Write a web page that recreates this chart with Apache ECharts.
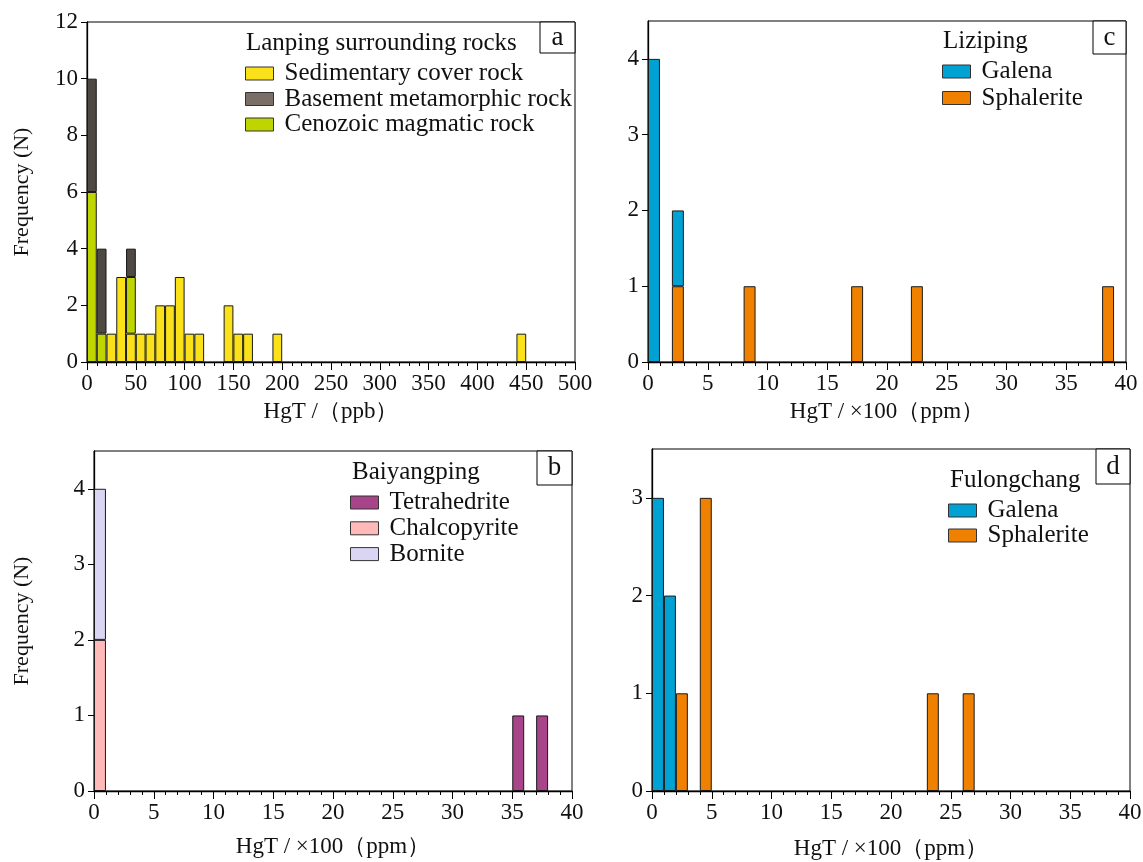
<!DOCTYPE html>
<html>
<head>
<meta charset="utf-8">
<script src="https://cdn.jsdelivr.net/npm/echarts@6/dist/echarts.min.js"></script>
<style>
  html, body { margin: 0; padding: 0; background: #fff; }
  #chart { width: 1143px; height: 862px; }
</style>
</head>
<body>
<div id="chart"></div>
<script>
// ---------------- DATA ----------------
// Panel a: Lanping surrounding rocks, HgT (ppb), bins of 10 ppb from 0 to 500
const aBins = ['0','10','20','30','40','50','60','70','80','90','100','110','120','130','140','150','160','170','180','190',
  '200','210','220','230','240','250','260','270','280','290','300','310','320','330','340','350','360','370','380','390',
  '400','410','420','430','440','450','460','470','480','490'];
const aSedimentary = [0,0,1,3,1,1,1,2,2,3, 1,1,0,0,2,1,1,0,0,1, 0,0,0,0,0,0,0,0,0,0, 0,0,0,0,0,0,0,0,0,0, 0,0,0,0,1,0,0,0,0,0];
const aCenozoic    = [6,1,0,0,2,0,0,0,0,0, 0,0,0,0,0,0,0,0,0,0, 0,0,0,0,0,0,0,0,0,0, 0,0,0,0,0,0,0,0,0,0, 0,0,0,0,0,0,0,0,0,0];
const aBasement    = [4,3,0,0,1,0,0,0,0,0, 0,0,0,0,0,0,0,0,0,0, 0,0,0,0,0,0,0,0,0,0, 0,0,0,0,0,0,0,0,0,0, 0,0,0,0,0,0,0,0,0,0];

// Panels b, c, d: HgT (x100 ppm), bins of 1 from 0 to 40
const ppmBins = ['0','1','2','3','4','5','6','7','8','9','10','11','12','13','14','15','16','17','18','19',
  '20','21','22','23','24','25','26','27','28','29','30','31','32','33','34','35','36','37','38','39'];
// c: Liziping
const cGalena     = [4,0,1,0,0,0,0,0,0,0, 0,0,0,0,0,0,0,0,0,0, 0,0,0,0,0,0,0,0,0,0, 0,0,0,0,0,0,0,0,0,0];
const cSphalerite = [0,0,1,0,0,0,0,0,1,0, 0,0,0,0,0,0,0,1,0,0, 0,0,1,0,0,0,0,0,0,0, 0,0,0,0,0,0,0,0,1,0];
// b: Baiyangping
const bTetrahedrite = [0,0,0,0,0,0,0,0,0,0, 0,0,0,0,0,0,0,0,0,0, 0,0,0,0,0,0,0,0,0,0, 0,0,0,0,0,1,0,1,0,0];
const bChalcopyrite = [2,0,0,0,0,0,0,0,0,0, 0,0,0,0,0,0,0,0,0,0, 0,0,0,0,0,0,0,0,0,0, 0,0,0,0,0,0,0,0,0,0];
const bBornite      = [2,0,0,0,0,0,0,0,0,0, 0,0,0,0,0,0,0,0,0,0, 0,0,0,0,0,0,0,0,0,0, 0,0,0,0,0,0,0,0,0,0];
// d: Fulongchang
const dGalena     = [3,2,0,0,0,0,0,0,0,0, 0,0,0,0,0,0,0,0,0,0, 0,0,0,0,0,0,0,0,0,0, 0,0,0,0,0,0,0,0,0,0];
const dSphalerite = [0,0,1,0,3,0,0,0,0,0, 0,0,0,0,0,0,0,0,0,0, 0,0,0,1,0,0,1,0,0,0, 0,0,0,0,0,0,0,0,0,0];

const yTicksA = [0,2,4,6,8,10,12];
const yTicksC = [0,1,2,3,4];
const yTicksB = [0,1,2,3,4];
const yTicksD = [0,1,2,3];

// ---------------- STYLE ----------------
const FONT = "'Liberation Serif','Times New Roman',serif";
const INK = '#111';
const C = {
  sed: '#fbe119', base: '#4e4a43', baseLegend: '#7a6e66', ceno: '#bfd500',
  galena: '#00a2d4', sphal: '#f08000',
  tetra: '#a8458a', chalco: '#ffb9b9', bornite: '#d9d5f3'
};

const grids = [
  { left: 87,  top: 22,  width: 488, height: 340 }, // a
  { left: 648, top: 21,  width: 478, height: 341 }, // c
  { left: 94,  top: 451, width: 478, height: 340 }, // b
  { left: 652, top: 449, width: 478, height: 342 }  // d
].map(g => Object.assign({ show: true, borderColor: '#000', borderWidth: 1, backgroundColor: 'transparent', containLabel: false, outerBoundsMode: 'none' }, g));

function catAxis(gi, data) {
  return { type: 'category', gridIndex: gi, data: data, show: false, boundaryGap: true };
}
function valXAxis(gi, max, interval, name, nameGap) {
  return {
    type: 'value', gridIndex: gi, position: 'bottom', min: 0, max: max, interval: interval,
    axisLine: { show: true, onZero: false, lineStyle: { color: '#000', width: 1.3 } },
    axisTick: { show: true, inside: false, length: 8, lineStyle: { color: '#000', width: 1 } },
    minorTick: { show: true, splitNumber: 5, length: 4, lineStyle: { color: '#000', width: 1 } },
    splitLine: { show: false }, minorSplitLine: { show: false },
    axisLabel: { color: INK, fontSize: 23, fontFamily: FONT, margin: 10 },
    name: name, nameLocation: 'middle', nameGap: nameGap,
    nameTextStyle: { color: INK, fontSize: 23, fontFamily: FONT }
  };
}
function valYAxis(gi, max, ticks, name, nameGap) {
  return {
    type: 'value', gridIndex: gi, min: 0, max: max,
    axisLine: { show: true, lineStyle: { color: '#000', width: 1.3 } },
    axisTick: { show: true, inside: false, length: 6, customValues: ticks, lineStyle: { color: '#000', width: 1 } },
    axisLabel: { color: INK, fontSize: 23, fontFamily: FONT, margin: 9, customValues: ticks },
    splitLine: { show: false },
    name: name || '', nameLocation: 'middle', nameGap: nameGap || 0, nameRotate: 90,
    nameTextStyle: { color: INK, fontSize: 22, fontFamily: FONT }
  };
}
function bars(name, data, xi, yi, color, stack) {
  return {
    type: 'bar', name: name, xAxisIndex: xi, yAxisIndex: yi, stack: stack,
    data: data.map(v => v === 0 ? '-' : v),
    barCategoryGap: '0%', barGap: '0%',
    itemStyle: { color: color, borderColor: '#1a1a1a', borderWidth: 1 },
    emphasis: { disabled: true }, silent: true
  };
}
function legendAt(left, top, gap, data) {
  return {
    data: data, orient: 'vertical', left: left, top: top, padding: 0, itemGap: gap,
    icon: 'rect', itemWidth: 28, itemHeight: 13, selectedMode: false,
    itemStyle: { borderColor: '#333', borderWidth: 1 },
    textStyle: { color: INK, fontSize: 25, fontFamily: FONT, lineHeight: 22.5, padding: [0, 0, 0, 6] }
  };
}
function titleAt(text, left, top) {
  return { text: text, left: left, top: top, padding: 0,
    textStyle: { color: INK, fontSize: 25, fontWeight: 'normal', fontFamily: FONT, lineHeight: 26 } };
}
function letterBox(ch, x, y, w, h) {
  return [
    { type: 'rect', z: 20, shape: { x: x, y: y, width: w, height: h }, style: { fill: '#fff', stroke: '#000', lineWidth: 1 } },
    { type: 'text', z: 21, x: x + w / 2, y: y + h / 2,
      style: { text: ch, fill: INK, fontSize: 27, fontFamily: FONT, align: 'center', verticalAlign: 'middle' } }
  ];
}

const option = {
  animation: false,
  backgroundColor: '#fff',
  grid: grids,
  xAxis: [
    catAxis(0, aBins), valXAxis(0, 500, 50, 'HgT /（ppb）', 38),
    catAxis(1, ppmBins), valXAxis(1, 40, 5, 'HgT / ×100（ppm）', 38),
    catAxis(2, ppmBins), valXAxis(2, 40, 5, 'HgT / ×100（ppm）', 44),
    catAxis(3, ppmBins), valXAxis(3, 40, 5, 'HgT / ×100（ppm）', 46)
  ],
  yAxis: [
    valYAxis(0, 12, yTicksA, 'Frequency (N)', 54),
    valYAxis(1, 4.5, yTicksC),
    valYAxis(2, 4.5, yTicksB, 'Frequency (N)', 61),
    valYAxis(3, 3.5, yTicksD)
  ],
  title: [
    titleAt('Lanping surrounding rocks', 246, 30),
    titleAt('Liziping', 943, 28),
    titleAt('Baiyangping', 352, 459),
    titleAt('Fulongchang', 950, 467)
  ],
  legend: [
    legendAt(245, 61, 0.5, [
      { name: 'Sedimentary cover rock' },
      { name: 'Basement metamorphic rock', itemStyle: { color: C.baseLegend } },
      { name: 'Cenozoic magmatic rock' }
    ]),
    legendAt(942, 59, 1.5, ['Galena', 'Sphalerite']),
    legendAt(350, 490, 0.8, ['Tetrahedrite', 'Chalcopyrite', 'Bornite']),
    legendAt(948, 498, 0, ['Galena ', 'Sphalerite '])
  ],
  series: [
    bars('Sedimentary cover rock', aSedimentary, 0, 0, C.sed, 'a'),
    bars('Cenozoic magmatic rock', aCenozoic, 0, 0, C.ceno, 'a'),
    bars('Basement metamorphic rock', aBasement, 0, 0, C.base, 'a'),

    bars('Sphalerite', cSphalerite, 2, 1, C.sphal, 'c'),
    bars('Galena', cGalena, 2, 1, C.galena, 'c'),

    bars('Chalcopyrite', bChalcopyrite, 4, 2, C.chalco, 'b'),
    bars('Bornite', bBornite, 4, 2, C.bornite, 'b'),
    bars('Tetrahedrite', bTetrahedrite, 4, 2, C.tetra, 'b'),

    bars('Galena ', dGalena, 6, 3, C.galena, 'd'),
    bars('Sphalerite ', dSphalerite, 6, 3, C.sphal, 'd')
  ],
  graphic: [].concat(
    letterBox('a', 540, 22, 35, 31),
    letterBox('c', 1093, 21, 33, 33),
    letterBox('b', 537, 451, 35, 34),
    letterBox('d', 1096, 449, 34, 35)
  )
};

const chart = echarts.init(document.getElementById('chart'), null, { renderer: 'canvas' });
chart.setOption(option);
</script>
</body>
</html>
